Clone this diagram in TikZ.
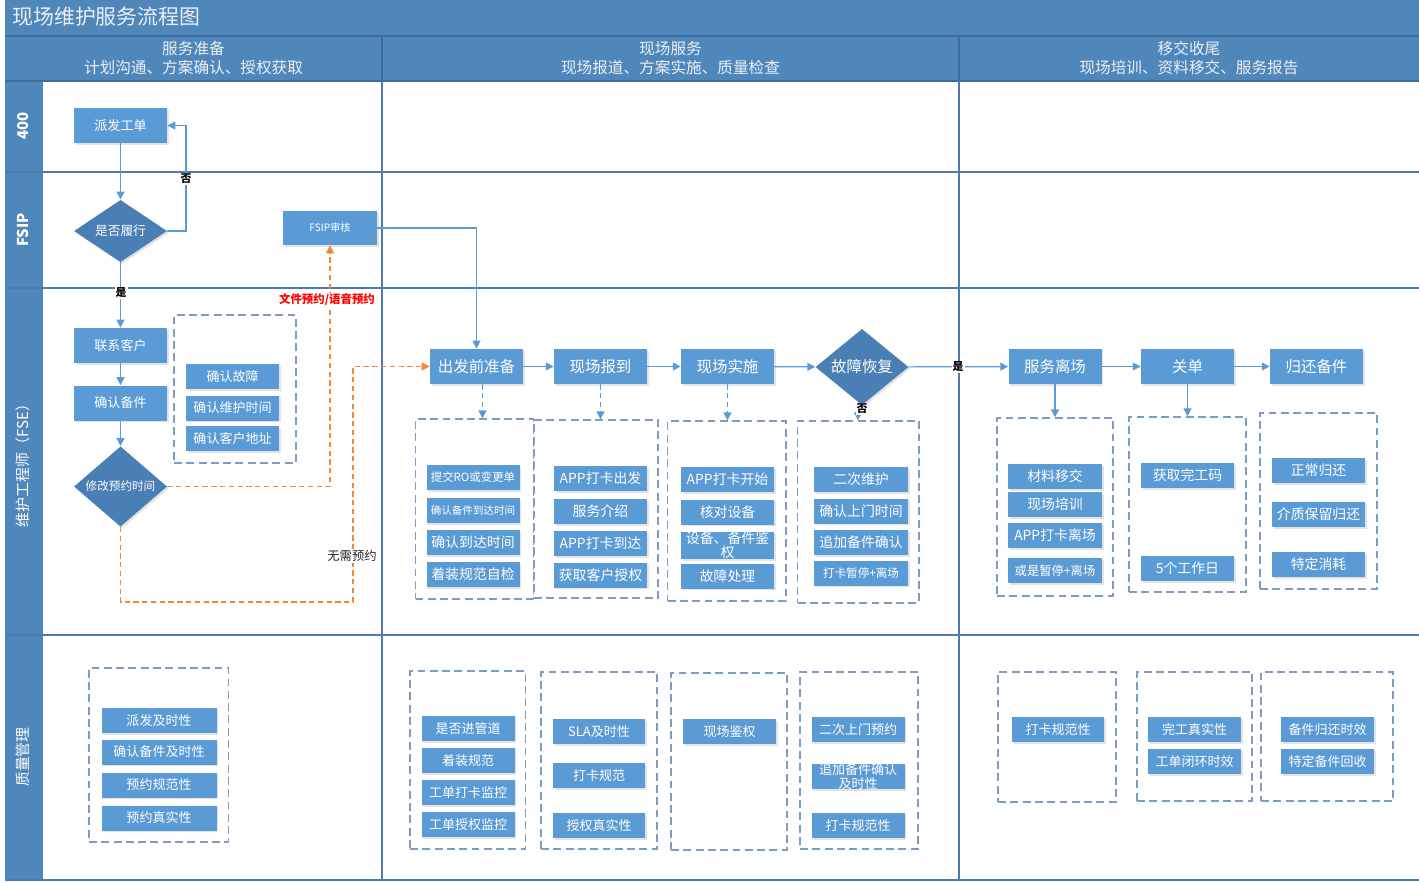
\documentclass[tikz,border=0pt]{standalone}
\usepackage{fontspec}
\setmainfont{Noto Sans CJK SC}
\usetikzlibrary{shapes.geometric,arrows.meta,fit,shadows}
\newdimen\pxu \pxu=0.02cm
\newcommand\fz[2]{\fontsize{#1}{#2}\selectfont}
\definecolor{hdr}{HTML}{4F87BB}
\definecolor{hdrline}{HTML}{3E6D9C}
\definecolor{boxblue}{HTML}{5B9BD5}
\definecolor{diablue}{HTML}{4A7FB6}
\definecolor{lanec}{HTML}{4E7AAE}
\definecolor{grpc}{HTML}{7F9DC0}
\definecolor{oranc}{HTML}{F0883A}
\definecolor{hdrtext}{HTML}{EAF0F7}
\tikzset{
  bx/.style={fill=boxblue, text=white, minimum width=93*\pxu, minimum height=25*\pxu, inner sep=0pt,
    font=\fz{7.9pt}{8.6pt}, drop shadow={shadow xshift=1pt,shadow yshift=-1pt,opacity=0.22}},
  mainbx/.style={bx, minimum height=35*\pxu, font=\fz{8.8pt}{10pt}},
  dia/.style={diamond, fill=diablue, text=white, minimum width=93*\pxu, minimum height=56*\pxu, inner sep=0pt,
    drop shadow={shadow xshift=1pt,shadow yshift=-1pt,opacity=0.22}},
  grp/.style={draw=grpc, line width=0.8pt, dash pattern=on 4.5pt off 2.5pt, inner sep=0pt},
  arr/.style={draw=boxblue, line width=0.7pt, -{Triangle[length=4.5pt,width=4.5pt]}},
  darr/.style={arr, dash pattern=on 3pt off 2pt},
  oarr/.style={draw=oranc, line width=0.8pt, dash pattern=on 3pt off 2pt, -{Triangle[length=4.5pt,width=4.5pt]}},
  lbl/.style={fill=white, inner sep=0.6pt, text=black, font=\bfseries\fz{6.2pt}{7pt}},
  lane/.style={draw=lanec, line width=0.7pt},
  hdrt/.style={text=hdrtext, font=\fz{8.9pt}{10.8pt}, align=center},
  lanet/.style={rotate=90, text=white, font=\fz{8.5pt}{10pt}},
}
\begin{document}
\begin{tikzpicture}[x=0.02cm,y=-0.02cm]
\useasboundingbox (0,0) rectangle (1419,882);
\fill[white] (0,0) rectangle (1419,882);
% bands
\fill[hdr] (5,0) rectangle (1419,81);
\fill[hdr] (5,81) rectangle (43,880);
\draw[hdrline, line width=0.8pt] (5,36) -- (1419,36);
\draw[hdrline, line width=0.8pt] (5,81) -- (1419,81);
\draw[hdrline, line width=0.6pt] (382,36) -- (382,81);
\draw[hdrline, line width=0.6pt] (959,36) -- (959,81);
% lanes
\draw[lane] (5,172) -- (1419,172);
\draw[lane] (5,288) -- (1419,288);
\draw[lane] (5,635) -- (1419,635);
\draw[lane] (5,880) -- (1419,880);
\draw[lane] (382,81) -- (382,880);
\draw[lane] (959,81) -- (959,880);
% title and headers
\node[anchor=west, text=hdrtext, font=\fz{11.9pt}{13pt}, inner sep=0pt] (title) at (12,17) {现场维护服务流程图};
\node[hdrt] (h1) at (193.5,58.5) {服务准备\\计划沟通、方案确认、授权获取};
\node[hdrt] (h2) at (670.5,58.5) {现场服务\\现场报道、方案实施、质量检查};
\node[hdrt] (h3) at (1189,58.5) {移交收尾\\现场培训、资料移交、服务报告};
\node[lanet, font=\bfseries\fz{8.5pt}{10pt}] (l1) at (23,126) {400};
\node[lanet, font=\bfseries\fz{8.5pt}{10pt}] (l2) at (23,230) {FSIP};
\node[lanet] (l3) at (23,462) {维护工程师（FSE）};
\node[lanet] (l4) at (23,757) {质量管理};

% dashed groups
\node[grp, fit={(174,315) (296,463)}] (g0) {};
\node[grp, fit={(415.5,419) (533.6,599)}] (g1) {};
\node[grp, fit={(534,420) (658,598)}] (g2) {};
\node[grp, fit={(667.6,421) (786,601)}] (g3) {};
\node[grp, fit={(797.7,421) (919,603)}] (g4) {};
\node[grp, fit={(997,418) (1113,596)}] (g5) {};
\node[grp, fit={(1129,417) (1246,592)}] (g6) {};
\node[grp, fit={(1260,413) (1377,589)}] (g7) {};
\node[grp, fit={(89,668) (228.6,842)}] (q1) {};
\node[grp, fit={(410,671) (525.5,849)}] (q2) {};
\node[grp, fit={(541,672) (657,849)}] (q3) {};
\node[grp, fit={(671,673) (787,850)}] (q4) {};
\node[grp, fit={(800,672) (918,849)}] (q5) {};
\node[grp, fit={(998,672) (1116,802)}] (q6) {};
\node[grp, fit={(1137,672) (1252,801)}] (q7) {};
\node[grp, fit={(1261,672) (1393,801)}] (q8) {};

% left column
\node[bx, minimum height=35*\pxu, font=\fz{7.4pt}{8pt}] (paifa) at (120.5,125.5) {派发工单};
\node[dia, font=\fz{7.2pt}{8pt}] (lvxing) at (120.5,231) {是否履行};
\node[bx, minimum width=94*\pxu, minimum height=34*\pxu, font=\fz{5.8pt}{7pt}] (fsip) at (330,228) {FSIP审核};
\node[bx, minimum height=35*\pxu, font=\fz{7.4pt}{8pt}] (lxkh) at (120.5,345.5) {联系客户};
\node[bx, minimum height=35*\pxu, font=\fz{7.4pt}{8pt}] (qrbj) at (120.5,403) {确认备件};
\node[dia, minimum height=55*\pxu, font=\fz{6.6pt}{8pt}] (xgyy) at (120.5,486.5) {修改预约时间};
\node[bx, font=\fz{7.4pt}{8pt}] (a1) at (232.5,376.5) {确认故障};
\node[bx, font=\fz{7.4pt}{8pt}] (a2) at (232.5,408) {确认维护时间};
\node[bx, font=\fz{7.4pt}{8pt}] (a3) at (232.5,438.5) {确认客户地址};

% main row
\node[mainbx] (cfq) at (476.5,366.5) {出发前准备};
\node[mainbx] (xcbd) at (600.5,366.5) {现场报到};
\node[mainbx] (xcss) at (727.5,366.5) {现场实施};
\node[dia, font=\fz{8.8pt}{10pt}] (gzhf) at (862,367) {故障恢复};
\node[mainbx] (fwlc) at (1055,366.5) {服务离场};
\node[mainbx] (gd) at (1187.5,366.5) {关单};
\node[mainbx] (ghbj) at (1316.5,366.5) {归还备件};

% group 1
\node[bx, font=\fz{6.5pt}{7pt}] (b11) at (473,477.5) {提交RO或变更单};
\node[bx, font=\fz{6pt}{7pt}] (b12) at (473,510.5) {确认备件到达时间};
\node[bx] (b13) at (473,542.5) {确认到达时间};
\node[bx] (b14) at (473,574.5) {着装规范自检};
% group 2
\node[bx] (b21) at (600.5,478.5) {APP打卡出发};
\node[bx] (b22) at (600.5,511.5) {服务介绍};
\node[bx] (b23) at (600.5,543.5) {APP打卡到达};
\node[bx] (b24) at (600.5,575) {获取客户授权};
% group 3
\node[bx] (b31) at (727.5,479.5) {APP打卡开始};
\node[bx] (b32) at (727.5,512) {核对设备};
\node[bx, align=center, font=\fz{7.9pt}{8.2pt}] (b33) at (727.5,545.5) {设备、备件鉴\\权};
\node[bx] (b34) at (727.5,576) {故障处理};
% group 4
\node[bx, minimum width=94*\pxu] (b41) at (861,479.5) {二次维护};
\node[bx, minimum width=94*\pxu] (b42) at (861,511) {确认上门时间};
\node[bx, minimum width=94*\pxu] (b43) at (861,542.5) {追加备件确认};
\node[bx, minimum width=94*\pxu, font=\fz{6.6pt}{7pt}] (b44) at (861,573) {打卡暂停+离场};
% group 5
\node[bx, minimum width=94*\pxu] (b51) at (1055,476.5) {材料移交};
\node[bx, minimum width=94*\pxu] (b52) at (1055,504.5) {现场培训};
\node[bx, minimum width=94*\pxu] (b53) at (1055,535.5) {APP打卡离场};
\node[bx, minimum width=94*\pxu, font=\fz{7pt}{7.5pt}] (b54) at (1055,570.5) {或是暂停+离场};
% group 6
\node[bx] (b61) at (1187.5,475.5) {获取完工码};
\node[bx] (b62) at (1187.5,568.5) {5个工作日};
% group 7
\node[bx] (b71) at (1318.5,470.5) {正常归还};
\node[bx] (b72) at (1318.5,514.5) {介质保留归还};
\node[bx] (b73) at (1318.5,564.5) {特定消耗};

% quality row
\node[bx, minimum width=115*\pxu, font=\fz{7.4pt}{8pt}] (c11) at (159,720.5) {派发及时性};
\node[bx, minimum width=115*\pxu, font=\fz{7.4pt}{8pt}] (c12) at (159,752) {确认备件及时性};
\node[bx, minimum width=115*\pxu, font=\fz{7.4pt}{8pt}] (c13) at (159,785) {预约规范性};
\node[bx, minimum width=115*\pxu, font=\fz{7.4pt}{8pt}] (c14) at (159,818) {预约真实性};
\node[bx, font=\fz{7.4pt}{8pt}] (c21) at (468,728.5) {是否进管道};
\node[bx, font=\fz{7.4pt}{8pt}] (c22) at (468,760.5) {着装规范};
\node[bx, font=\fz{7.4pt}{8pt}] (c23) at (468,792.5) {工单打卡监控};
\node[bx, font=\fz{7.4pt}{8pt}] (c24) at (468,824.5) {工单授权监控};
\node[bx, minimum width=92*\pxu, font=\fz{7.4pt}{8pt}] (c31) at (599,731.5) {SLA及时性};
\node[bx, minimum width=92*\pxu, font=\fz{7.4pt}{8pt}] (c32) at (599,775.5) {打卡规范};
\node[bx, minimum width=92*\pxu, font=\fz{7.4pt}{8pt}] (c33) at (599,825.5) {授权真实性};
\node[bx, font=\fz{7.4pt}{8pt}] (c41) at (729.5,731.5) {现场鉴权};
\node[bx, font=\fz{7.4pt}{8pt}] (c51) at (858,729.5) {二次上门预约};
\node[bx, align=center, font=\fz{7.4pt}{7.6pt}] (c52) at (858,776.5) {追加备件确认\\及时性};
\node[bx, font=\fz{7.4pt}{8pt}] (c53) at (858,825.5) {打卡规范性};
\node[bx, minimum width=92*\pxu, font=\fz{7.4pt}{8pt}] (c61) at (1058,729.5) {打卡规范性};
\node[bx, font=\fz{7.4pt}{8pt}] (c71) at (1194.5,729.5) {完工真实性};
\node[bx, font=\fz{7.4pt}{8pt}] (c72) at (1194.5,761.5) {工单闭环时效};
\node[bx, font=\fz{7.4pt}{8pt}] (c81) at (1327.5,729.5) {备件归还时效};
\node[bx, font=\fz{7.4pt}{8pt}] (c82) at (1327.5,761.5) {特定备件回收};

% connectors left
\coordinate (n1) at (186,231);
\coordinate (o1) at (120.5,602);
\coordinate (o2) at (353,602);
\draw[arr] (paifa) -- (lvxing);
\draw[arr] (lvxing.east) -- (n1) |- (paifa.east);
\draw[arr] (lvxing) -- (lxkh);
\draw[arr] (lxkh) -- (qrbj);
\draw[arr] (qrbj) -- (xgyy);
\draw[oarr] (xgyy.east) -| (fsip.south);
\draw[oarr] (xgyy.south) -- (o1) -- (o2) |- (cfq.west);
\draw[arr] (fsip.east) -| (cfq.north);
% main row connectors
\draw[arr] (cfq) -- (xcbd);
\draw[arr] (xcbd) -- (xcss);
\draw[arr] (xcss) -- (gzhf);
\draw[arr] (gzhf) -- (fwlc);
\draw[arr] (fwlc) -- (gd);
\draw[arr] (gd) -- (ghbj);
\draw[darr] ([xshift=6*\pxu]cfq.south) -- ([xshift=6*\pxu]cfq.south |- g1.north);
\draw[darr] (xcbd.south) -- (xcbd.south |- g2.north);
\draw[darr] (xcss.south) -- (xcss.south |- g3.north);
\draw[darr] ([xshift=-4*\pxu]gzhf.south) -- ([xshift=-4*\pxu]gzhf.south |- g4.north);
\draw[arr] (fwlc.south) -- (fwlc.south |- g5.north);
\draw[arr] (gd.south) -- (gd.south |- g6.north);
% labels
\node[lbl] (t1) at (186,179) {否};
\node[lbl] (t2) at (121,293) {是};
\node[lbl] (t3) at (958,367) {是};
\node[lbl] (t4) at (862,409) {否};
\node[fill=white, inner sep=0.8pt, text=red, font=\bfseries\fz{6.5pt}{7pt}] (t5) at (327,300) {文件预约/语音预约};
\node[fill=white, inner sep=0.8pt, text=black!85, font=\fz{7pt}{8pt}] (t6) at (352,556) {无需预约};
\end{tikzpicture}
\end{document}
